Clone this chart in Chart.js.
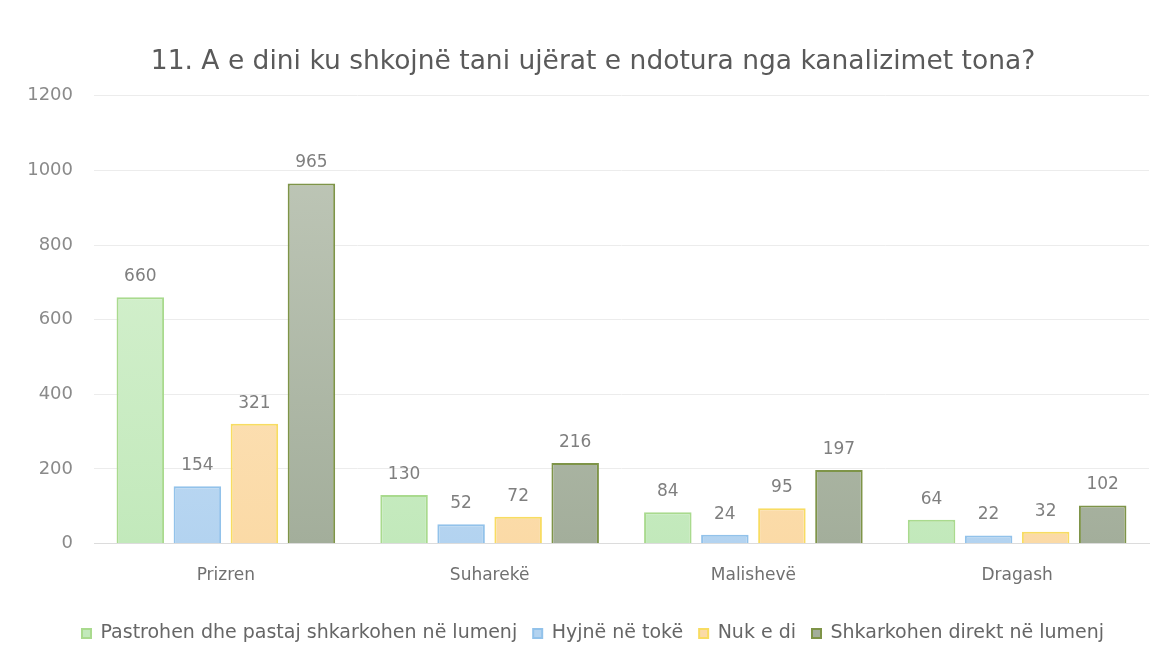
<!DOCTYPE html>
<html><head><meta charset="utf-8">
<script src="https://cdn.jsdelivr.net/npm/chart.js@4/dist/chart.umd.min.js"></script>
<style>html,body{margin:0;padding:0;background:#fff}#wrap{width:1173px;height:666px}</style>
</head><body><div id="wrap"><canvas id="c" width="1173" height="666"></canvas></div>
<script>
const categories = ["Prizren", "Suharekë", "Malishevë", "Dragash"];
const seriesNames = ["Pastrohen dhe pastaj shkarkohen në lumenj", "Hyjnë në tokë", "Nuk e di", "Shkarkohen direkt në lumenj"];
const pastrohen = [660, 130, 84, 64];
const hyjne = [154, 52, 24, 22];
const nukEDi = [321, 72, 95, 32];
const direkt = [965, 216, 197, 102];
const yTicks = [0, 200, 400, 600, 800, 1000, 1200];

const FONT = '"DejaVu Sans", sans-serif';
const fills = [["#dcf3d6", "#c2e9bb"], ["#d3e6f7", "#b3d3f0"], ["#fde8c8", "#fbdaa6"], ["#c2cabb", "#a3ae9b"]];
const borders = ["#a9da8e", "#92c2ea", "#f8dc62", "#7e9448"];

function grad(i) {
  return function(ctx) {
    const ch = ctx.chart; const a = ch.chartArea;
    if (!a) return fills[i][1];
    const g = ch.ctx.createLinearGradient(0, a.top, 0, a.bottom);
    g.addColorStop(0, fills[i][0]); g.addColorStop(1, fills[i][1]);
    return g;
  };
}
const values = [pastrohen, hyjne, nukEDi, direkt];
const datasets = values.map((v, i) => ({
  label: seriesNames[i], data: v,
  backgroundColor: grad(i), borderColor: borders[i], borderWidth: 2,
  categoryPercentage: 0.865, barPercentage: 0.833
}));

const labelPlugin = {
  id: 'vals',
  afterDatasetsDraw(chart) {
    const c = chart.ctx;
    c.save();
    c.font = '17px ' + FONT;
    c.fillStyle = '#7f7f7f'; c.textAlign = 'center'; c.textBaseline = 'bottom';
    chart.data.datasets.forEach((ds, di) => {
      chart.getDatasetMeta(di).data.forEach((bar, j) => {
        c.fillText(String(ds.data[j]), bar.x, bar.y - 12);
      });
    });
    c.restore();
  }
};

new Chart(document.getElementById('c'), {
  type: 'bar',
  data: { labels: categories, datasets },
  options: {
    responsive: false, animation: false,
    layout: { padding: { left: 27, right: 14, top: 0, bottom: 13 } },
    plugins: {
      title: { display: true, text: "11. A e dini ku shkojnë tani ujërat e ndotura nga kanalizimet tona?",
        color: '#5a5a5a', font: { family: FONT, size: 26.5, weight: 'normal' }, padding: { top: 46, bottom: 18 } },
      legend: { position: 'bottom', labels: { color: '#666666', boxWidth: 9, boxHeight: 9, padding: 16,
        font: { family: FONT, size: 19 } } },
      tooltip: { enabled: false }
    },
    scales: {
      x: { grid: { display: false, drawTicks: false }, border: { display: true, color: '#dcdcdc' },
        ticks: { color: '#707070', font: { family: FONT, size: 17 }, padding: 22 } },
      y: { min: 0, max: 1200, afterBuildTicks: s => { s.ticks = yTicks.map(v => ({ value: v })); },
        afterFit: s => { s.width = 67; },
        grid: { color: '#ececec', drawTicks: false }, border: { display: false },
        ticks: { color: '#8a8a8a', font: { family: FONT, size: 18 }, padding: 21, callback: v => String(v) } },
      yPad: { position: 'right', min: 0, max: 1200, afterFit: s => { s.width = 10; },
        grid: { display: false, drawTicks: false }, border: { display: false }, ticks: { display: false } }
    }
  },
  plugins: [labelPlugin]
});
</script></body></html>
